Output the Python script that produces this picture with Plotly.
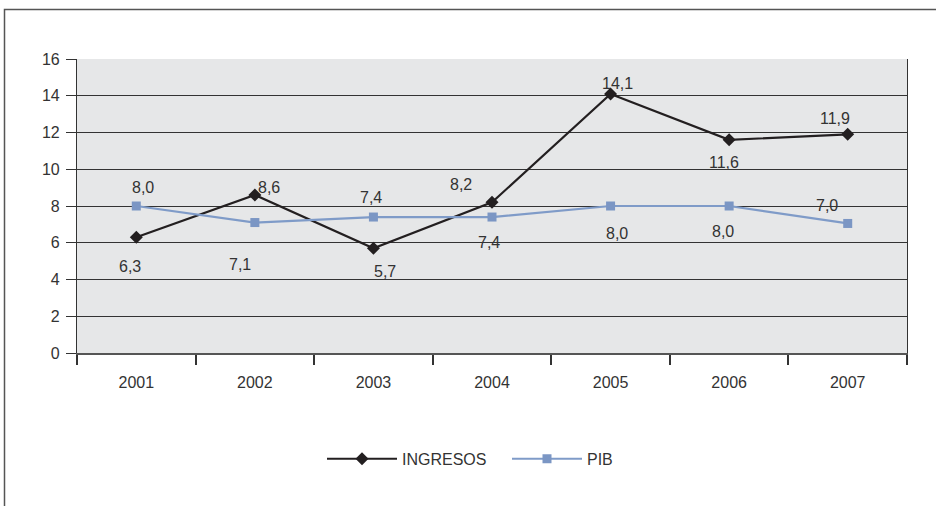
import plotly.graph_objects as go

years = ["2001", "2002", "2003", "2004", "2005", "2006", "2007"]
ingresos = [6.3, 8.6, 5.7, 8.2, 14.1, 11.6, 11.9]
pib = [8.0, 7.1, 7.4, 7.4, 8.0, 8.0, 7.05]
y_ticks = [0, 2, 4, 6, 8, 10, 12, 14, 16]

# label offsets (style): (dx, dy) in px, dy positive = downward
ing_off = [(-6, 29), (14, -7), (12, 23), (-31, -18), (7, -10), (-5, 23), (-13, -16)]
pib_off = [(7, -19), (-15, 42), (-2, -20), (-3, 25), (6, 27), (-6, 25), (-21, -18)]

TXT = "#333333"
FONT = "Liberation Sans, Arial, sans-serif"

fig = go.Figure()
fig.add_trace(go.Scatter(
    x=years, y=ingresos, name="INGRESOS", mode="lines+markers",
    line=dict(color="#231f20", width=2.2),
    marker=dict(symbol="diamond", size=10, color="#231f20"),
))
fig.add_trace(go.Scatter(
    x=years, y=pib, name="PIB", mode="lines+markers",
    line=dict(color="#7f9bc8", width=2.2),
    marker=dict(symbol="square", size=9, color="#7b96c4"),
))

def fmt(v):
    return f"{v:.1f}".replace(".", ",")

annotations = []
for vals, offs in ((ingresos, ing_off), (pib, pib_off)):
    for i, (v, (dx, dy)) in enumerate(zip(vals, offs)):
        annotations.append(dict(x=i, y=v, xref="x", yref="y", text=fmt(v),
                                showarrow=False, xshift=dx, yshift=-dy,
                                xanchor="center", yanchor="middle",
                                font=dict(family=FONT, size=16, color=TXT)))

L, R, T, B = 77, 29, 59, 153
W, H = 936, 506
pw, ph = W - L - R, H - T - B
# outer frame (decoration)
frame = dict(type="rect", xref="paper", yref="paper",
             x0=(4.5 - L) / pw, x1=(W + 5 - L) / pw,
             y0=(H - B - (H + 5)) / ph, y1=(H - B - 9.5) / ph,
             line=dict(color="#555555", width=1.5), layer="below")

fig.update_layout(
    width=W, height=H,
    margin=dict(l=L, r=R, t=T, b=B),
    paper_bgcolor="white",
    plot_bgcolor="#e6e7e8",
    font=dict(family=FONT, size=16, color=TXT),
    showlegend=True,
    annotations=annotations,
    shapes=[frame],
    legend=dict(orientation="h", x=(322 - L) / pw, xanchor="left", y=-0.36, yanchor="middle",
                font=dict(family=FONT, size=16, color=TXT), itemwidth=70,
                entrywidth=100, entrywidthmode="pixels"),
    xaxis=dict(
        type="category", tickson="boundaries", ticks="outside", ticklen=10,
        tickcolor="#333333", tickwidth=1.5, showgrid=False,
        showline=True, linecolor="#555555", linewidth=2, mirror=False,
        ticklabelstandoff=14, tickfont=dict(size=16, color=TXT),
        range=[-0.5, 6.5],
    ),
    yaxis=dict(
        range=[0, 16], tickvals=y_ticks, ticks="outside", ticklen=10,
        tickcolor="#333333", tickwidth=1.2,
        showgrid=True, gridcolor="#333333", gridwidth=1.2,
        showline=True, linecolor="#333333", linewidth=1.2, mirror=True,
        zeroline=False, ticklabelstandoff=3, tickfont=dict(size=16, color=TXT),
    ),
)

fig.write_html("out.html", config={"displayModeBar": False},
               post_script="document.body.style.margin='0';")
